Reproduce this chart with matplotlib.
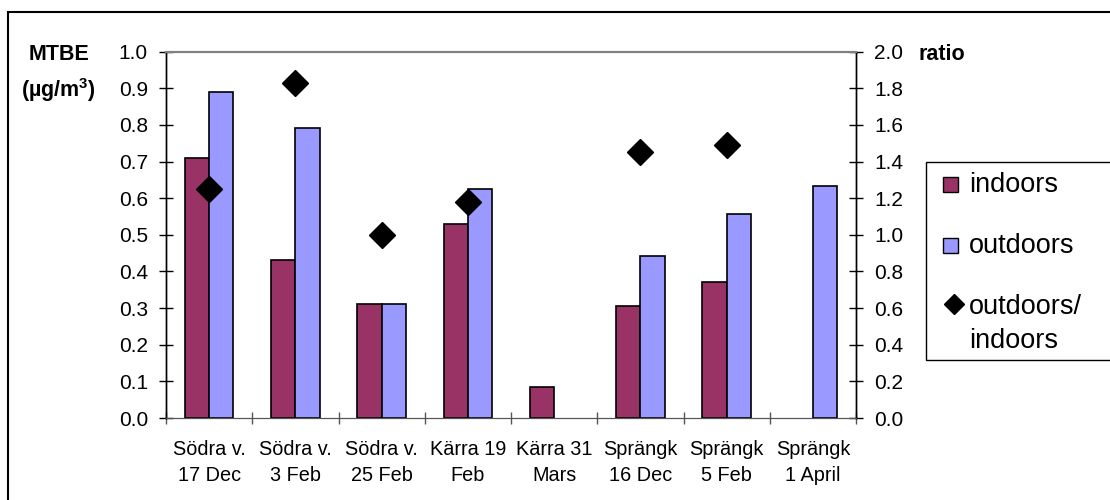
import numpy as np
import matplotlib
matplotlib.use("Agg")
import matplotlib.pyplot as plt
from matplotlib.patches import Rectangle
from matplotlib.lines import Line2D
from matplotlib.ticker import MultipleLocator, FormatStrFormatter

plt.rcParams['font.family'] = ['Liberation Sans', 'DejaVu Sans']
plt.rcParams['mathtext.fontset'] = 'custom'
plt.rcParams['mathtext.rm'] = 'Liberation Sans'
plt.rcParams['mathtext.bf'] = 'Liberation Sans:bold'

# sampling sites / dates
sites = ["Södra v.\n17 Dec", "Södra v.\n3 Feb", "Södra v.\n25 Feb", "Kärra 19\nFeb",
         "Kärra 31\nMars", "Sprängk\n16 Dec", "Sprängk\n5 Feb", "Sprängk\n1 April"]

# MTBE concentrations (ug/m3), None = no sample
indoors = [0.709, 0.430, 0.310, 0.529, 0.085, 0.305, 0.372, None]
outdoors = [0.889, 0.791, 0.310, 0.626, None, 0.441, 0.557, 0.634]
# outdoors/indoors ratio
ratio = [1.25, 1.83, 1.00, 1.18, None, 1.45, 1.49, None]

c_in = '#993366'
c_out = '#9999FF'

W, H = 1110, 500
fig = plt.figure(figsize=(W / 100, H / 100), dpi=100)
ax1 = fig.add_axes([166 / W, 1 - 418 / H, 690 / W, 366.3 / H])
ax2 = ax1.twinx()

x = np.arange(len(sites))
w = 0.28
xi = [i for i, v in zip(x, indoors) if v is not None]
vi = [v for v in indoors if v is not None]
xo = [i for i, v in zip(x, outdoors) if v is not None]
vo = [v for v in outdoors if v is not None]
ax1.bar(np.array(xi) - w / 2, vi, width=w, color=c_in, edgecolor='black', linewidth=1.2, zorder=2)
ax1.bar(np.array(xo) + w / 2, vo, width=w, color=c_out, edgecolor='black', linewidth=1.2, zorder=2)

xr = [i for i, v in zip(x, ratio) if v is not None]
vr = [v for v in ratio if v is not None]
ax2.plot(xr, vr, linestyle='none', marker='D', markersize=13.2, color='black')

# left axis
ax1.set_xlim(-0.5, len(sites) - 0.5)
ax1.set_ylim(0, 1.0)
ax1.yaxis.set_major_locator(MultipleLocator(0.1))
ax1.yaxis.set_major_formatter(FormatStrFormatter('%.1f'))
ax1.tick_params(axis='y', direction='inout', length=9.4, width=1, pad=8.3, labelsize=15)

# right axis
ax2.set_ylim(0, 2.0)
ax2.yaxis.set_major_locator(MultipleLocator(0.2))
ax2.yaxis.set_major_formatter(FormatStrFormatter('%.1f'))
ax2.tick_params(axis='y', direction='inout', length=9.4, width=1, pad=8.3, labelsize=15)

# category labels in the middle, tick marks on the boundaries
ax1.set_xticks(x)
ax1.set_xticklabels(sites, fontsize=14.3, linespacing=1.5)
ax1.set_xticks(np.arange(-0.5, len(sites)), minor=True)
ax1.tick_params(axis='x', which='major', length=0, pad=15.5)
ax1.tick_params(axis='x', which='minor', direction='inout', length=8, width=1, color='#555555')

for ax in (ax1, ax2):
    ax.spines['top'].set_color('#808080')
    ax.spines['top'].set_linewidth(1.5)
    ax.spines['bottom'].set_color('#555555')
    ax.spines['left'].set_linewidth(1)
    ax.spines['right'].set_linewidth(1)

fig.text(59.5 / W, 1 - 55 / H, "MTBE", fontsize=15.5, fontweight='bold', ha='center', va='center')
fig.text(58 / W, 1 - 90 / H, r"(µg/m$^\mathbf{3}$)", fontsize=15.5, fontweight='bold',
         ha='center', va='center')
fig.text(918 / W, 1 - 55 / H, "ratio", fontsize=15.5, fontweight='bold', ha='left', va='center')

# legend box with its entries
fig.add_artist(Rectangle((926 / W, 1 - 360 / H), 0.3, 198 / H, transform=fig.transFigure,
                         fill=False, edgecolor='black', linewidth=1, clip_on=False))
for top, col in ((177, c_in), (238, c_out)):
    fig.add_artist(Rectangle((943 / W, 1 - (top + 15) / H), 15 / W, 15 / H, transform=fig.transFigure,
                             facecolor=col, edgecolor='black', linewidth=1))
fig.add_artist(Line2D([953.5 / W], [1 - 303.7 / H], transform=fig.transFigure, linestyle='none',
                      marker='D', markersize=9.7, color='black'))
for base, txt in ((192, "indoors"), (253, "outdoors"), (314, "outdoors/"), (347.5, "indoors")):
    fig.text(969 / W, 1 - base / H, txt, fontsize=19.5, ha='left', va='baseline')

# outer chart border
fig.add_artist(Rectangle((8.3 / W, -0.1), 1.2, 1.1 - 12.3 / H, transform=fig.transFigure,
                         fill=False, edgecolor='black', linewidth=1.5, clip_on=False))

fig.savefig("out.png", dpi=100)
